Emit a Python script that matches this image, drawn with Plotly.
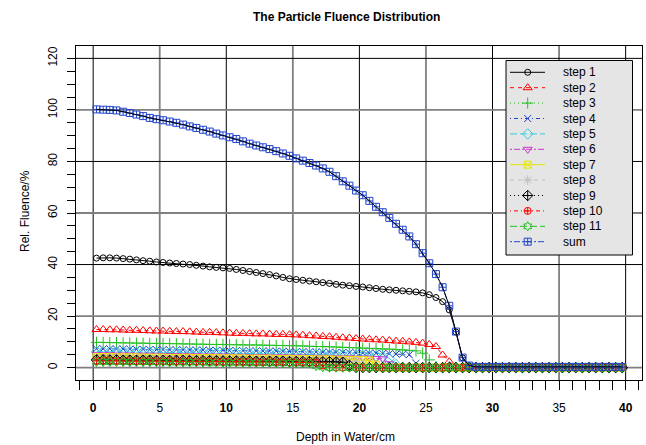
import plotly.graph_objects as go

# ---------------- data ----------------
depth = [0.25, 0.75, 1.25, 1.75, 2.25, 2.75, 3.25, 3.75, 4.25, 4.75,
         5.25, 5.75, 6.25, 6.75, 7.25, 7.75, 8.25, 8.75, 9.25, 9.75,
         10.25, 10.75, 11.25, 11.75, 12.25, 12.75, 13.25, 13.75, 14.25, 14.75,
         15.25, 15.75, 16.25, 16.75, 17.25, 17.75, 18.25, 18.75, 19.25, 19.75,
         20.25, 20.75, 21.25, 21.75, 22.25, 22.75, 23.25, 23.75, 24.25, 24.75,
         25.25, 25.75, 26.25, 26.75, 27.25, 27.75, 28.25, 28.75, 29.25, 29.75,
         30.25, 30.75, 31.25, 31.75, 32.25, 32.75, 33.25, 33.75, 34.25, 34.75,
         35.25, 35.75, 36.25, 36.75, 37.25, 37.75, 38.25, 38.75, 39.25, 39.75]

step1 = [42.5, 42.6, 42.6, 42.5, 42.3, 42.1, 41.8, 41.5, 41.3, 41.0,
         40.8, 40.6, 40.4, 40.2, 40.0, 39.7, 39.4, 39.1, 38.9, 38.7,
         38.5, 38.1, 37.7, 37.3, 36.9, 36.5, 36.1, 35.6, 35.0, 34.5,
         34.2, 33.9, 33.6, 33.3, 33.0, 32.7, 32.3, 32.0, 31.8, 31.5,
         31.3, 31.0, 30.7, 30.4, 30.2, 30.0, 29.8, 29.6, 29.4, 29.0,
         28.3, 27.2, 25.6, 22.4, 13.8, 3.8, 0.7, 0.2, 0.2, 0.2,
         0.2, 0.2, 0.2, 0.2, 0.2, 0.2, 0.2, 0.2, 0.2, 0.2,
         0.2, 0.2, 0.2, 0.2, 0.2, 0.2, 0.2, 0.2, 0.2, 0.2]

step2 = [14.8, 14.8, 14.7, 14.7, 14.6, 14.5, 14.5, 14.4, 14.3, 14.2,
         14.2, 14.1, 14.0, 14.0, 13.9, 13.8, 13.7, 13.7, 13.6, 13.5,
         13.4, 13.3, 13.3, 13.2, 13.1, 13.1, 13.0, 12.9, 12.9, 12.8,
         12.7, 12.6, 12.4, 12.3, 12.1, 12.0, 11.8, 11.6, 11.5, 11.3,
         11.1, 11.0, 10.8, 10.7, 10.5, 10.3, 10.2, 10.0, 9.8, 9.5,
         9.0, 8.2, 4.9, 2.3, 0.3, 0.0, 0.0, 0.0, 0.0, 0.0,
         0.0, 0.0, 0.0, 0.0, 0.0, 0.0, 0.0, 0.0, 0.0, 0.0,
         0.0, 0.0, 0.0, 0.0, 0.0, 0.0, 0.0, 0.0, 0.0, 0.0]

step3 = [9.8, 9.8, 9.7, 9.7, 9.6, 9.6, 9.5, 9.5, 9.4, 9.4,
         9.4, 9.3, 9.3, 9.2, 9.2, 9.1, 9.1, 9.0, 9.0, 9.0,
         8.9, 8.9, 8.8, 8.8, 8.8, 8.7, 8.7, 8.6, 8.6, 8.5,
         8.5, 8.4, 8.3, 8.2, 8.2, 8.1, 8.0, 7.9, 7.8, 7.7,
         7.6, 7.5, 7.4, 7.3, 7.2, 7.0, 6.9, 6.7, 6.5, 5.6,
         3.0, 0.4, 0.0, 0.0, 0.0, 0.0, 0.0, 0.0, 0.0, 0.0,
         0.0, 0.0, 0.0, 0.0, 0.0, 0.0, 0.0, 0.0, 0.0, 0.0,
         0.0, 0.0, 0.0, 0.0, 0.0, 0.0, 0.0, 0.0, 0.0, 0.0]

step4 = [7.3, 7.3, 7.3, 7.2, 7.2, 7.2, 7.1, 7.1, 7.0, 7.0,
         7.0, 6.9, 6.9, 6.9, 6.8, 6.8, 6.8, 6.7, 6.7, 6.7,
         6.6, 6.6, 6.6, 6.5, 6.5, 6.5, 6.4, 6.4, 6.3, 6.3,
         6.2, 6.2, 6.1, 6.1, 6.0, 6.0, 5.9, 5.9, 5.8, 5.8,
         5.7, 5.6, 5.6, 5.5, 5.4, 5.3, 5.2, 5.0, 1.7, 0.2,
         0.0, 0.0, 0.0, 0.0, 0.0, 0.0, 0.0, 0.0, 0.0, 0.0,
         0.0, 0.0, 0.0, 0.0, 0.0, 0.0, 0.0, 0.0, 0.0, 0.0,
         0.0, 0.0, 0.0, 0.0, 0.0, 0.0, 0.0, 0.0, 0.0, 0.0]

step5 = [6.2, 6.2, 6.2, 6.1, 6.1, 6.1, 6.0, 6.0, 6.0, 5.9,
         5.9, 5.9, 5.8, 5.8, 5.8, 5.7, 5.7, 5.7, 5.6, 5.6,
         5.6, 5.5, 5.5, 5.5, 5.4, 5.4, 5.4, 5.3, 5.3, 5.2,
         5.2, 5.2, 5.1, 5.1, 5.0, 5.0, 4.9, 4.9, 4.8, 4.8,
         4.7, 4.6, 4.5, 4.3, 3.6, 1.2, 0.1, 0.0, 0.0, 0.0,
         0.0, 0.0, 0.0, 0.0, 0.0, 0.0, 0.0, 0.0, 0.0, 0.0,
         0.0, 0.0, 0.0, 0.0, 0.0, 0.0, 0.0, 0.0, 0.0, 0.0,
         0.0, 0.0, 0.0, 0.0, 0.0, 0.0, 0.0, 0.0, 0.0, 0.0]

step6 = [5.0, 5.0, 5.0, 4.9, 4.9, 4.9, 4.8, 4.8, 4.8, 4.8,
         4.7, 4.7, 4.7, 4.6, 4.6, 4.6, 4.5, 4.5, 4.5, 4.5,
         4.4, 4.4, 4.4, 4.3, 4.3, 4.3, 4.2, 4.2, 4.2, 4.1,
         4.1, 4.1, 4.0, 4.0, 4.0, 3.9, 3.9, 3.8, 3.8, 3.7,
         3.7, 3.6, 3.5, 3.4, 1.5, 0.1, 0.0, 0.0, 0.0, 0.0,
         0.0, 0.0, 0.0, 0.0, 0.0, 0.0, 0.0, 0.0, 0.0, 0.0,
         0.0, 0.0, 0.0, 0.0, 0.0, 0.0, 0.0, 0.0, 0.0, 0.0,
         0.0, 0.0, 0.0, 0.0, 0.0, 0.0, 0.0, 0.0, 0.0, 0.0]

step7 = [4.1, 4.1, 4.1, 4.0, 4.0, 4.0, 4.0, 3.9, 3.9, 3.9,
         3.9, 3.8, 3.8, 3.8, 3.8, 3.7, 3.7, 3.7, 3.7, 3.6,
         3.6, 3.6, 3.6, 3.5, 3.5, 3.5, 3.5, 3.4, 3.4, 3.4,
         3.3, 3.3, 3.3, 3.2, 3.2, 3.2, 3.1, 3.1, 3.0, 3.0,
         2.9, 2.8, 1.2, 0.1, 0.0, 0.0, 0.0, 0.0, 0.0, 0.0,
         0.0, 0.0, 0.0, 0.0, 0.0, 0.0, 0.0, 0.0, 0.0, 0.0,
         0.0, 0.0, 0.0, 0.0, 0.0, 0.0, 0.0, 0.0, 0.0, 0.0,
         0.0, 0.0, 0.0, 0.0, 0.0, 0.0, 0.0, 0.0, 0.0, 0.0]

step8 = [3.5, 3.5, 3.5, 3.5, 3.4, 3.4, 3.4, 3.4, 3.3, 3.3,
         3.3, 3.3, 3.2, 3.2, 3.2, 3.2, 3.1, 3.1, 3.1, 3.1,
         3.0, 3.0, 3.0, 3.0, 2.9, 2.9, 2.9, 2.9, 2.8, 2.8,
         2.8, 2.8, 2.7, 2.7, 2.7, 2.6, 2.6, 2.6, 2.5, 2.3,
         1.0, 0.1, 0.0, 0.0, 0.0, 0.0, 0.0, 0.0, 0.0, 0.0,
         0.0, 0.0, 0.0, 0.0, 0.0, 0.0, 0.0, 0.0, 0.0, 0.0,
         0.0, 0.0, 0.0, 0.0, 0.0, 0.0, 0.0, 0.0, 0.0, 0.0,
         0.0, 0.0, 0.0, 0.0, 0.0, 0.0, 0.0, 0.0, 0.0, 0.0]

step9 = [3.0, 3.0, 3.0, 3.0, 2.9, 2.9, 2.9, 2.9, 2.9, 2.8,
         2.8, 2.8, 2.8, 2.8, 2.7, 2.7, 2.7, 2.7, 2.7, 2.6,
         2.6, 2.6, 2.6, 2.6, 2.5, 2.5, 2.5, 2.5, 2.5, 2.4,
         2.4, 2.4, 2.4, 2.3, 2.3, 2.3, 2.2, 2.1, 0.9, 0.1,
         0.0, 0.0, 0.0, 0.0, 0.0, 0.0, 0.0, 0.0, 0.0, 0.0,
         0.0, 0.0, 0.0, 0.0, 0.0, 0.0, 0.0, 0.0, 0.0, 0.0,
         0.0, 0.0, 0.0, 0.0, 0.0, 0.0, 0.0, 0.0, 0.0, 0.0,
         0.0, 0.0, 0.0, 0.0, 0.0, 0.0, 0.0, 0.0, 0.0, 0.0]

step10 = [2.6, 2.6, 2.6, 2.6, 2.5, 2.5, 2.5, 2.5, 2.5, 2.5,
          2.4, 2.4, 2.4, 2.4, 2.4, 2.3, 2.3, 2.3, 2.3, 2.3,
          2.2, 2.2, 2.2, 2.2, 2.2, 2.1, 2.1, 2.1, 2.1, 2.0,
          2.0, 2.0, 1.9, 1.9, 0.8, 0.1, 0.0, 0.0, 0.0, 0.0,
          0.0, 0.0, 0.0, 0.0, 0.0, 0.0, 0.0, 0.0, 0.0, 0.0,
          0.0, 0.0, 0.0, 0.0, 0.0, 0.0, 0.0, 0.0, 0.0, 0.0,
          0.0, 0.0, 0.0, 0.0, 0.0, 0.0, 0.0, 0.0, 0.0, 0.0,
          0.0, 0.0, 0.0, 0.0, 0.0, 0.0, 0.0, 0.0, 0.0, 0.0]

step11 = [2.2, 2.2, 2.2, 2.2, 2.2, 2.1, 2.1, 2.1, 2.1, 2.1,
          2.1, 2.0, 2.0, 2.0, 2.0, 2.0, 2.0, 1.9, 1.9, 1.9,
          1.9, 1.9, 1.8, 1.8, 1.8, 1.8, 1.8, 1.7, 1.7, 1.7,
          1.7, 1.6, 1.6, 0.6, 0.1, 0.0, 0.0, 0.0, 0.0, 0.0,
          0.0, 0.0, 0.0, 0.0, 0.0, 0.0, 0.0, 0.0, 0.0, 0.0,
          0.0, 0.0, 0.0, 0.0, 0.0, 0.0, 0.0, 0.0, 0.0, 0.0,
          0.0, 0.0, 0.0, 0.0, 0.0, 0.0, 0.0, 0.0, 0.0, 0.0,
          0.0, 0.0, 0.0, 0.0, 0.0, 0.0, 0.0, 0.0, 0.0, 0.0]

total = [100.2, 100.1, 100.0, 99.8, 99.3, 98.8, 98.2, 97.6, 96.9, 96.4,
         96.0, 95.5, 95.0, 94.3, 93.6, 93.0, 92.3, 91.6, 90.8, 90.1,
         89.4, 88.7, 87.8, 86.9, 86.2, 85.5, 84.8, 84.0, 83.1, 82.2,
         81.2, 80.3, 79.4, 78.4, 77.3, 76.0, 74.3, 72.3, 70.6, 68.7,
         66.9, 64.7, 62.4, 60.3, 58.1, 55.8, 53.5, 50.9, 47.9, 44.4,
         40.5, 36.3, 31.2, 24.0, 14.0, 3.9, 0.8, 0.3, 0.3, 0.3,
         0.3, 0.3, 0.3, 0.3, 0.3, 0.3, 0.3, 0.3, 0.3, 0.3,
         0.3, 0.3, 0.3, 0.3, 0.3, 0.3, 0.3, 0.3, 0.3, 0.3]

series_names = ["step 1", "step 2", "step 3", "step 4", "step 5", "step 6",
                "step 7", "step 8", "step 9", "step 10", "step 11", "sum"]
series_values = [step1, step2, step3, step4, step5, step6,
                 step7, step8, step9, step10, step11, total]

x_tick_vals = [0, 5, 10, 15, 20, 25, 30, 35, 40]
x_tick_text = ["<b>0</b>", "5", "<b>10</b>", "15", "<b>20</b>", "25", "<b>30</b>", "35", "<b>40</b>"]
y_tick_vals = [0, 20, 40, 60, 80, 100, 120]
y_tick_text = ["0", "20", "40", "60", "80", "100", "120"]
# grid lines that render crisp black vs. soft gray in the reference
x_grid_dark = [0, 10, 20, 30, 40]
x_grid_soft = [5, 15, 25, 35]
y_grid_dark = [40, 80, 120]
y_grid_soft = [0, 20, 60, 100]

# ---------------- styles ----------------
colors = ["#000000", "#FF0000", "#22C022", "#2244CC", "#33CCDD", "#CC33CC",
          "#E6E600", "#BEBEBE", "#000000", "#FF0000", "#22C022", "#2244CC"]
dashes = ["solid", "4px,4px", "1px,3px", "1px,3px,4px,3px", "7px,3px", "2px,2px,6px,2px",
          "solid", "4px,4px", "1px,3px", "1px,3px,4px,3px", "7px,3px", "2px,2px,6px,2px"]
symbols = ["circle-open", "triangle-up-open", "cross-thin-open", "x-thin-open",
           "diamond-open", "triangle-down-open", "square-x-open", "asterisk-open",
           "diamond-cross-open", "circle-cross-open", "hexagram-open", "square-cross-open"]
sizes = [6, 8, 8, 7, 8, 8, 7, 8, 8, 7, 7, 7]

FONT = "Liberation Sans, Arial, sans-serif"

for s in series_values:
    assert len(s) == len(depth)

fig = go.Figure()

for name, vals, c, d, sym, sz in zip(series_names, series_values, colors, dashes, symbols, sizes):
    fig.add_trace(go.Scatter(
        x=depth, y=vals, name=name, mode="lines+markers",
        line=dict(color=c, width=1, dash=d),
        marker=dict(symbol=sym, size=sz, color=c, line=dict(color=c, width=1)),
        showlegend=False, cliponaxis=False))

# black solid curve drawn through the sum points
fig.add_trace(go.Scatter(x=depth, y=total, mode="lines",
                         line=dict(color="#000000", width=1), showlegend=False))

# ---------------- grid lines ----------------
shapes = []
for v in x_grid_dark:
    shapes.append(dict(type="line", xref="x", yref="paper", x0=v, x1=v, y0=0, y1=1,
                       line=dict(color="#000000", width=1), layer="below"))
for v in x_grid_soft:
    shapes.append(dict(type="line", xref="x", yref="paper", x0=v, x1=v, y0=0, y1=1,
                       line=dict(color="#808080", width=1.8), layer="below"))
for v in y_grid_dark:
    shapes.append(dict(type="line", xref="paper", yref="y", x0=0, x1=1, y0=v, y1=v,
                       line=dict(color="#000000", width=1), layer="below"))
for v in y_grid_soft:
    shapes.append(dict(type="line", xref="paper", yref="y", x0=0, x1=1, y0=v, y1=v,
                       line=dict(color="#808080", width=1.8), layer="below"))

# ---------------- custom legend (R-style box) ----------------
W, H = 646, 445
ML, MR, MT, MB = 76, 4, 46, 65
PW, PH = W - ML - MR, H - MT - MB


def px_to_fx(px):
    return (px - ML) / PW


def py_to_fy(py):
    return (H - MB - py) / PH


lx0, lx1, ly0, ly1 = px_to_fx(506), px_to_fx(632.5), py_to_fy(255), py_to_fy(60.5)
fig.add_trace(go.Scatter(x=[lx0, lx1, lx1, lx0, lx0], y=[ly0, ly0, ly1, ly1, ly0],
                         mode="lines", fill="toself", fillcolor="#E5E5E5",
                         line=dict(color="#000000", width=1),
                         xaxis="x2", yaxis="y2", showlegend=False, hoverinfo="skip"))

annotations = []
for i, (name, c, d, sym, sz) in enumerate(zip(series_names, colors, dashes, symbols, sizes)):
    fy = py_to_fy(72.3 + 15.4 * i)
    fig.add_trace(go.Scatter(x=[px_to_fx(510), px_to_fx(545)], y=[fy, fy], mode="lines",
                             line=dict(color=c, width=1, dash=d),
                             xaxis="x2", yaxis="y2", showlegend=False, hoverinfo="skip"))
    fig.add_trace(go.Scatter(x=[px_to_fx(527.7)], y=[fy], mode="markers",
                             marker=dict(symbol=sym, size=sz, color=c, line=dict(color=c, width=1)),
                             xaxis="x2", yaxis="y2", showlegend=False, hoverinfo="skip"))
    annotations.append(dict(x=px_to_fx(561), y=fy, xref="paper", yref="paper",
                            text=name, showarrow=False, xanchor="left", yanchor="middle",
                            font=dict(family=FONT, size=12, color="#000000")))

annotations.append(dict(x=px_to_fx(346), y=py_to_fy(17), xref="paper", yref="paper",
                        text="<b>The Particle Fluence Distribution</b>", showarrow=False,
                        xanchor="center", yanchor="middle",
                        font=dict(family=FONT, size=12, color="#000000")))
annotations.append(dict(x=px_to_fx(345), y=py_to_fy(437), xref="paper", yref="paper",
                        text="Depth in Water/cm", showarrow=False,
                        xanchor="center", yanchor="middle",
                        font=dict(family=FONT, size=12, color="#000000")))
annotations.append(dict(x=px_to_fx(25), y=py_to_fy(211), xref="paper", yref="paper",
                        text="Rel. Fluence/%", showarrow=False, textangle=-90,
                        xanchor="center", yanchor="middle",
                        font=dict(family=FONT, size=12, color="#000000")))

fig.update_layout(
    width=W, height=H,
    margin=dict(l=ML, r=MR, t=MT, b=MB, pad=0),
    paper_bgcolor="white", plot_bgcolor="white",
    font=dict(family=FONT, size=12, color="#000000"),
    showlegend=False,
    annotations=annotations,
    shapes=shapes,
    xaxis=dict(range=[-1.29, 41.23], tickvals=x_tick_vals, ticktext=x_tick_text,
               ticks="outside", ticklen=9, tickwidth=1, tickcolor="#000000",
               showline=True, linecolor="#000000", linewidth=1, mirror=True,
               showgrid=False, zeroline=False,
               minor=dict(dtick=1, tick0=0, ticks="outside", ticklen=9, tickcolor="#000000",
                          tickwidth=1, showgrid=False),
               tickfont=dict(family=FONT, size=12, color="#000000"),
               ticklabelstandoff=8, fixedrange=True),
    yaxis=dict(range=[-4.8, 124.8], tickvals=y_tick_vals, ticktext=y_tick_text,
               tickangle=-90, ticks="outside", ticklen=8, tickwidth=1, tickcolor="#000000",
               showline=True, linecolor="#000000", linewidth=1, mirror=True,
               showgrid=False, zeroline=False,
               minor=dict(dtick=5, tick0=0, ticks="outside", ticklen=8, tickcolor="#000000",
                          tickwidth=1, showgrid=False),
               tickfont=dict(family=FONT, size=12, color="#000000"),
               ticklabelstandoff=5, fixedrange=True),
    xaxis2=dict(overlaying="x", range=[0, 1], visible=False, fixedrange=True),
    yaxis2=dict(overlaying="y", range=[0, 1], visible=False, fixedrange=True),
)

fig.write_html("out.html")
